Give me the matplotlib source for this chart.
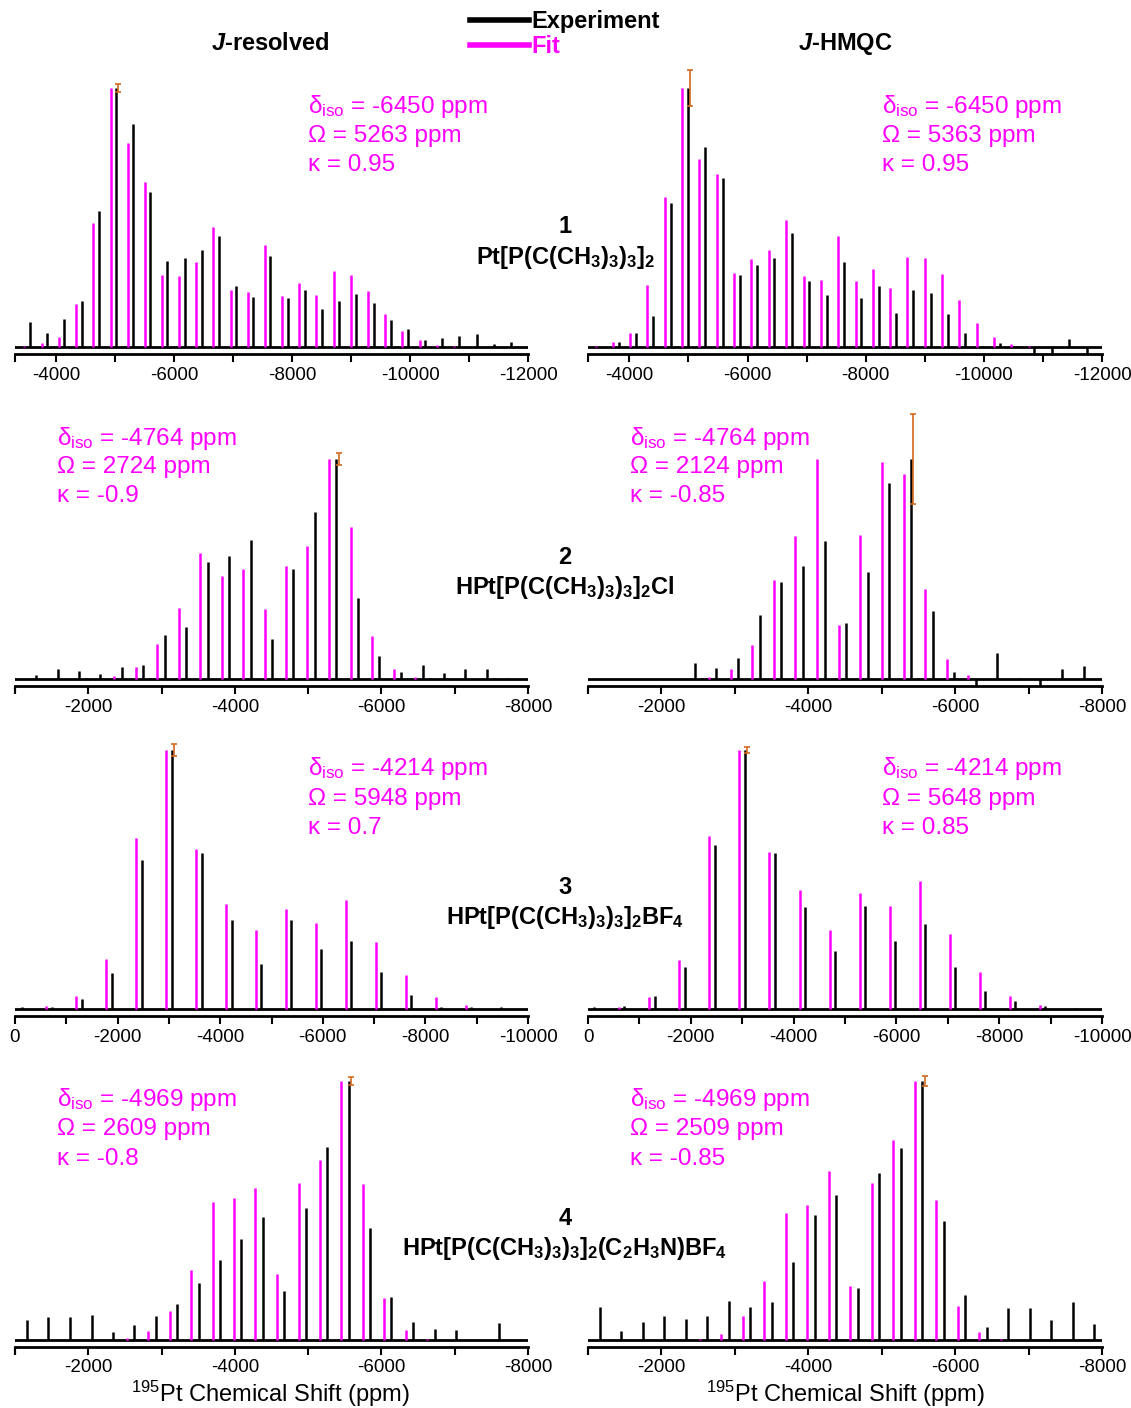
import matplotlib
matplotlib.use("Agg")
from matplotlib import pyplot as plt
from matplotlib.lines import Line2D
from matplotlib.ticker import MultipleLocator, FixedLocator
from matplotlib.transforms import offset_copy
import numpy as np

plt.rcParams["font.family"] = ["Liberation Sans", "DejaVu Sans"]
plt.rcParams["mathtext.fontset"] = "custom"
plt.rcParams["mathtext.rm"] = "Liberation Sans"
plt.rcParams["mathtext.it"] = "Liberation Sans:italic:bold"
plt.rcParams["mathtext.bf"] = "Liberation Sans:bold"
plt.rcParams["axes.unicode_minus"] = False

MAGENTA = "#ff00ff"
ORANGE = "#d2691e"

# ---- data: stick positions (ppm) and normalised intensities ----
jres1_exp_ppm = [-3554, -3849, -4139, -4434, -4723, -5012, -5307, -5596, -5886, -6175, -6470, -6759, -7054, -7343,
                 -7633, -7928, -8217, -8506, -8801, -9090, -9380, -9675, -9964, -10259, -10548, -10837, -11133,
                 -11422, -11711]
jres1_exp_int = [0.097, 0.054, 0.109, 0.178, 0.524, 1.0, 0.861, 0.598, 0.332, 0.344, 0.373, 0.427, 0.234, 0.194,
                 0.353, 0.188, 0.220, 0.145, 0.178, 0.205, 0.169, 0.106, 0.069, 0.026, 0.033, 0.041, 0.049,
                 0.013, 0.018]
jres1_fit_ppm = [-3458, -3753, -4042, -4337, -4627, -4922, -5211, -5500, -5795, -6084, -6373, -6663, -6958, -7247,
                 -7536, -7831, -8120, -8410, -8705, -8994, -9283, -9578, -9867, -10163, -10452, -10747, -11036]
jres1_fit_int = [0.003, 0.015, 0.039, 0.165, 0.479, 1.0, 0.786, 0.637, 0.278, 0.273, 0.327, 0.462, 0.221, 0.214,
                 0.394, 0.196, 0.247, 0.201, 0.295, 0.279, 0.215, 0.129, 0.063, 0.026, 0.009, 0.003, 0.001]

hmqc1_exp_ppm = [-3818, -4109, -4401, -4699, -4991, -5283, -5581, -5872, -6164, -6456, -6754, -7046, -7337, -7629,
                 -7927, -8219, -8511, -8802, -9100, -9392, -9684, -9976, -10274, -10565, -10857, -11155, -11447,
                 -11739]
hmqc1_exp_int = [0.018, 0.055, 0.119, 0.555, 1.0, 0.774, 0.654, 0.279, 0.316, 0.343, 0.439, 0.255, 0.201, 0.330,
                 0.190, 0.237, 0.132, 0.219, 0.209, 0.126, 0.054, 0.002, 0.015, 0.003, -0.022, -0.022, 0.031,
                 -0.04]
hmqc1_fit_ppm = [-3429, -3720, -4012, -4304, -4602, -4894, -5185, -5483, -5775, -6067, -6359, -6657, -6948, -7240,
                 -7532, -7830, -8122, -8413, -8705, -9003, -9295, -9587, -9884, -10176, -10468, -10766, -11058]
hmqc1_fit_int = [0.003, 0.019, 0.054, 0.239, 0.581, 1.0, 0.726, 0.667, 0.284, 0.338, 0.375, 0.490, 0.274, 0.257,
                 0.430, 0.253, 0.303, 0.227, 0.347, 0.345, 0.283, 0.181, 0.093, 0.040, 0.013, 0.004, 0.001]

jres2_exp_ppm = [-1283, -1580, -1873, -2166, -2459, -2751, -3044, -3337, -3629, -3922, -4215, -4507, -4800, -5093,
                 -5385, -5678, -5971, -6263, -6561, -6854, -7146, -7439, -7732]
jres2_exp_int = [0.020, 0.047, 0.038, 0.024, 0.055, 0.064, 0.202, 0.236, 0.533, 0.558, 0.632, 0.180, 0.502, 0.761,
                 1.0, 0.367, 0.105, 0.030, 0.065, 0.027, 0.045, 0.045, 0.006]
jres2_fit_ppm = [-2356, -2649, -2941, -3234, -3527, -3820, -4112, -4405, -4698, -4990, -5283, -5580, -5873, -6166,
                 -6459]
jres2_fit_int = [0.015, 0.053, 0.159, 0.323, 0.573, 0.467, 0.500, 0.317, 0.514, 0.606, 1.0, 0.691, 0.195, 0.047,
                 0.009]

hmqc2_exp_ppm = [-2451, -2745, -3044, -3338, -3632, -3926, -4221, -4515, -4809, -5103, -5397, -5696, -5990, -6279,
                 -6569, -6863, -7162, -7456, -7750]
hmqc2_exp_int = [0.073, 0.050, 0.095, 0.289, 0.439, 0.515, 0.629, 0.256, 0.486, 0.889, 1.0, 0.309, 0.030, -0.04,
                 0.118, 0.003, -0.04, 0.044, 0.058]
hmqc2_fit_ppm = [-2647, -2941, -3235, -3529, -3824, -4118, -4412, -4706, -5000, -5299, -5593, -5887, -6181]
hmqc2_fit_int = [0.009, 0.047, 0.156, 0.450, 0.650, 1.0, 0.244, 0.656, 0.988, 0.933, 0.411, 0.091, 0.018]

jres3_exp_ppm = [-139, -723, -1300, -1884, -2468, -3053, -3637, -4221, -4805, -5389, -5974, -6558, -7142, -7726,
                 -8310, -8894, -9478]
jres3_exp_int = [0.008, 0.006, 0.039, 0.139, 0.575, 1.0, 0.602, 0.344, 0.175, 0.344, 0.233, 0.261, 0.141, 0.055,
                 0.008, 0.008, 0.006]
jres3_fit_ppm = [-612, -1189, -1773, -2357, -2941, -3526, -4110, -4694, -5278, -5862, -6446, -7031, -7615, -8199,
                 -8783]
jres3_fit_int = [0.010, 0.049, 0.193, 0.662, 1.0, 0.617, 0.407, 0.306, 0.386, 0.332, 0.419, 0.260, 0.130, 0.046,
                 0.014]

hmqc3_exp_ppm = [-125, -710, -1295, -1880, -2465, -3050, -3635, -4220, -4805, -5390, -5975, -6560, -7145, -7730,
                 -8315, -8900, -9485]
hmqc3_exp_int = [0.008, 0.013, 0.049, 0.162, 0.635, 1.0, 0.602, 0.392, 0.224, 0.396, 0.263, 0.328, 0.162, 0.071,
                 0.030, 0.013, 0.002]
hmqc3_fit_ppm = [-606, -1191, -1776, -2361, -2946, -3531, -4116, -4701, -5286, -5870, -6455, -7040, -7625, -8210,
                 -8795]
hmqc3_fit_int = [0.008, 0.045, 0.188, 0.667, 1.0, 0.605, 0.458, 0.305, 0.446, 0.396, 0.495, 0.289, 0.144, 0.049,
                 0.014]

jres4_exp_ppm = [-1162, -1455, -1747, -2044, -2336, -2628, -2921, -3213, -3505, -3798, -4090, -4382, -4674, -4966,
                 -5259, -5551, -5843, -6135, -6428, -6725, -7017, -7602, -7894]
jres4_exp_int = [0.076, 0.090, 0.087, 0.095, 0.031, 0.059, 0.091, 0.138, 0.221, 0.308, 0.389, 0.476, 0.190, 0.510,
                 0.747, 1.0, 0.431, 0.165, 0.068, 0.044, 0.037, 0.064, 0.005]
jres4_fit_ppm = [-2526, -2818, -3111, -3403, -3695, -3987, -4280, -4577, -4869, -5161, -5453, -5746, -6038, -6330,
                 -6622]
jres4_fit_int = [0.006, 0.033, 0.113, 0.270, 0.533, 0.549, 0.587, 0.256, 0.605, 0.694, 1.0, 0.603, 0.161, 0.039,
                 0.005]

hmqc4_exp_ppm = [-1161, -1454, -1746, -2039, -2332, -2624, -2917, -3210, -3502, -3795, -4088, -4380, -4673, -4966,
                 -5259, -5551, -5844, -6137, -6429, -6722, -7015, -7307, -7600, -7893]
hmqc4_exp_int = [0.129, 0.035, 0.068, 0.094, 0.080, 0.093, 0.152, 0.126, 0.147, 0.302, 0.482, 0.559, 0.199, 0.643,
                 0.740, 1.0, 0.460, 0.175, 0.050, 0.125, 0.125, 0.077, 0.148, 0.060]
hmqc4_fit_ppm = [-2522, -2815, -3107, -3400, -3693, -3985, -4278, -4571, -4863, -5156, -5449, -5741, -6034, -6327,
                 -6620]
hmqc4_fit_int = [0.003, 0.023, 0.091, 0.228, 0.490, 0.522, 0.654, 0.210, 0.605, 0.771, 1.0, 0.539, 0.131, 0.030,
                 0.003]

# error on the most intense experimental stick
err_bars = [0.014, 0.07, 0.027, 0.206, 0.024, 0.012, 0.015, 0.02]

# fitted tensor parameters (delta_iso, Omega, kappa)
fit_params = [("-6450", "5263", "0.95"), ("-6450", "5363", "0.95"),
              ("-4764", "2724", "-0.9"), ("-4764", "2124", "-0.85"),
              ("-4214", "5948", "0.7"), ("-4214", "5648", "0.85"),
              ("-4969", "2609", "-0.8"), ("-4969", "2509", "-0.85")]

row_xlims = [(-3300, -12000), (-1000, -8000), (0, -10000), (-1000, -8000)]

s2 = r"$_{\mathbf{2}}$"
s3 = r"$_{\mathbf{3}}$"
s4 = r"$_{\mathbf{4}}$"
compounds = [
    "Pt[P(C(CH" + s3 + ")" + s3 + ")" + s3 + "]" + s2,
    "HPt[P(C(CH" + s3 + ")" + s3 + ")" + s3 + "]" + s2 + "Cl",
    "HPt[P(C(CH" + s3 + ")" + s3 + ")" + s3 + "]" + s2 + "BF" + s4,
    "HPt[P(C(CH" + s3 + ")" + s3 + ")" + s3 + "]" + s2 + "(C" + s2 + "H" + s3 + "N)BF" + s4,
]

panels = [
    (jres1_exp_ppm, jres1_exp_int, jres1_fit_ppm, jres1_fit_int),
    (hmqc1_exp_ppm, hmqc1_exp_int, hmqc1_fit_ppm, hmqc1_fit_int),
    (jres2_exp_ppm, jres2_exp_int, jres2_fit_ppm, jres2_fit_int),
    (hmqc2_exp_ppm, hmqc2_exp_int, hmqc2_fit_ppm, hmqc2_fit_int),
    (jres3_exp_ppm, jres3_exp_int, jres3_fit_ppm, jres3_fit_int),
    (hmqc3_exp_ppm, hmqc3_exp_int, hmqc3_fit_ppm, hmqc3_fit_int),
    (jres4_exp_ppm, jres4_exp_int, jres4_fit_ppm, jres4_fit_int),
    (hmqc4_exp_ppm, hmqc4_exp_int, hmqc4_fit_ppm, hmqc4_fit_int),
]

# ---- layout (pixels of the 1131x1408 figure) ----
W, H = 1131, 1408
col_x = [(15, 528), (588, 1102)]
row_base = [347, 679, 1009, 1340]
row_unit = [259, 220, 259, 259]
gap = 7
head = 300
text_x = [[308, 882], [57, 630], [308, 882], [57, 630]]
text_y = [[113, 142, 171], [445, 473, 502], [775, 805, 834], [1106, 1135, 1165]]


def fx(px):
    return px / W


def fy(py):
    return 1 - py / H


fig = plt.figure(figsize=(W / 100, H / 100), dpi=100)

for i, (ex, ey, fxp, fyv) in enumerate(panels):
    row, col = divmod(i, 2)
    x0, x1 = col_x[col]
    base, unit = row_base[row], row_unit[row]
    ax = fig.add_axes([fx(x0), fy(base + gap), (x1 - x0) / W, (head + gap) / H])
    lo, hi = row_xlims[row]
    ax.set_xlim(lo, hi)
    ax.set_ylim(-gap / unit, head / unit)

    ax.axhline(0, color="k", lw=2)
    ax.vlines(fxp, 0, fyv, color=MAGENTA, lw=1.8)
    ax.vlines(ex, 0, ey, color="k", lw=1.8)

    # error bar sits just to the right of the tallest experimental stick
    k = int(np.argmax(ey))
    tr = offset_copy(ax.transData, fig=fig, x=2.5, y=0, units="dots")
    ax.errorbar([ex[k]], [ey[k]], yerr=[err_bars[i]], fmt="none", ecolor=ORANGE,
                elinewidth=1.2, capsize=2, capthick=1.2, transform=tr, clip_on=False)

    for s in ["top", "left", "right"]:
        ax.spines[s].set_visible(False)
    ax.spines["bottom"].set_linewidth(2)
    ax.set_yticks([])
    ax.xaxis.set_major_locator(MultipleLocator(2000))
    minors = [m for m in range(0, -13000, -1000) if min(lo, hi) <= m <= max(lo, hi)] + [lo, hi]
    ax.xaxis.set_minor_locator(FixedLocator(minors))
    ax.tick_params(axis="x", which="both", direction="out", length=6, width=1.5,
                   labelsize=13.5, pad=3)
    ax.patch.set_visible(False)

    d, om, ka = fit_params[i]
    tx = text_x[row][col]
    ty = text_y[row]
    fig.text(fx(tx), fy(ty[0]), "δ" + r"$_{\mathrm{iso}}$" + " = " + d + " ppm", color=MAGENTA,
             fontsize=17.5, va="baseline")
    fig.text(fx(tx), fy(ty[1]), "Ω = " + om + " ppm", color=MAGENTA, fontsize=17.5, va="baseline")
    fig.text(fx(tx), fy(ty[2]), "κ = " + ka, color=MAGENTA, fontsize=17.5, va="baseline")

# compound labels
num_y = [233, 564, 894, 1225]
form_y = [264, 594, 924, 1255]
for r in range(4):
    fig.text(fx(565), fy(num_y[r]), str(r + 1), fontsize=17, fontweight="bold", ha="center", va="baseline")
    fig.text(fx(565), fy(form_y[r]), compounds[r], fontsize=17, fontweight="bold", ha="center", va="baseline")

# column headers
fig.text(fx(270), fy(50), r"$\mathit{J}$-resolved", fontsize=17, fontweight="bold", ha="center", va="baseline")
fig.text(fx(845), fy(50), r"$\mathit{J}$-HMQC", fontsize=17, fontweight="bold", ha="center", va="baseline")

# x labels
for cx in [270, 845]:
    fig.text(fx(cx), fy(1402), r"$^{\mathrm{195}}$Pt Chemical Shift (ppm)", fontsize=17, ha="center",
             va="baseline")

# legend
handles = [Line2D([], [], color="k", lw=4, label="Experiment"),
           Line2D([], [], color=MAGENTA, lw=4, label="Fit")]
fig.legend(handles=handles, loc="upper left", bbox_to_anchor=(fx(470), fy(10)), frameon=False,
           prop={"weight": "bold", "size": 17}, handlelength=2.5, handletextpad=0.1,
           labelspacing=0.1, borderpad=0, borderaxespad=0, labelcolor=["k", MAGENTA])

plt.savefig("out.png", dpi=100)
